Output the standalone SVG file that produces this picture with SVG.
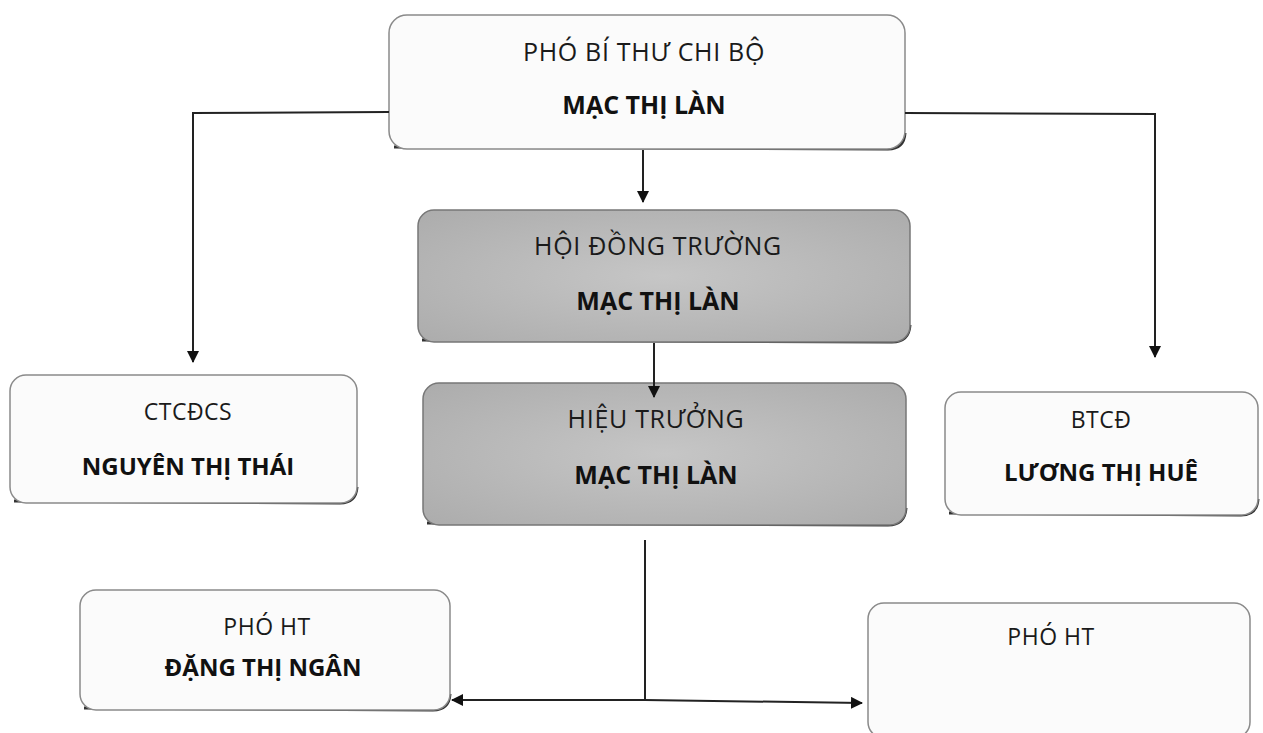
<svg xmlns="http://www.w3.org/2000/svg" width="1263" height="733" viewBox="0 0 1263 733">
<style>
.box{fill:#fbfbfb;stroke:#8a8a8a;stroke-width:1.5}
.gbox{fill:url(#gg);stroke:#777;stroke-width:1.5}
.sh{fill:none;stroke:#333;stroke-width:3}
.t{font-family:"Open Sans","Liberation Sans",sans-serif;font-size:25px;letter-spacing:0.7px;fill:#1a1a1a;text-anchor:middle}
.b{font-family:"Open Sans","Liberation Sans",sans-serif;font-size:25px;font-weight:bold;fill:#111;text-anchor:middle}
.ts{font-family:"Open Sans","Liberation Sans",sans-serif;font-size:23px;letter-spacing:0.5px;fill:#1a1a1a;text-anchor:middle}
.bs{font-family:"Open Sans","Liberation Sans",sans-serif;font-size:24px;font-weight:bold;fill:#111;text-anchor:middle}
.ln{fill:none;stroke:#222;stroke-width:2}
</style>
<defs>
<radialGradient id="gg" cx="0.5" cy="0.5" r="0.7">
<stop offset="0" stop-color="#c6c6c6"/>
<stop offset="1" stop-color="#acacac"/>
</radialGradient>
<marker id="ah" markerWidth="12" markerHeight="12" refX="11" refY="6" orient="auto" markerUnits="userSpaceOnUse">
<path d="M0,0 L12,6 L0,12 z" fill="#111"/>
</marker>
</defs>
<rect width="1263" height="733" fill="#ffffff"/>
<g id="n1">
<path class="sh" d="M394,147 L888,149 Q904,149 905,133"/>
<rect class="box" x="389" y="15" width="516" height="134" rx="18"/>
<text class="t" x="644" y="61">PHÓ BÍ THƯ CHI BỘ</text>
<text class="b" x="644" y="114">MẠC THỊ LÀN</text>
</g>
<g id="n2">
<path class="sh" d="M422,340 L892,342 Q909,342 910,325"/>
<rect class="gbox" x="418" y="210" width="492" height="132" rx="16"/>
<text class="t" x="658" y="255">HỘI ĐỒNG TRƯỜNG</text>
<text class="b" x="658" y="310">MẠC THỊ LÀN</text>
</g>
<g id="n3">
<path class="sh" d="M427,523 L888,525 Q905,525 906,508"/>
<rect class="gbox" x="423" y="383" width="483" height="142" rx="16"/>
<text class="t" x="656" y="428">HIỆU TRƯỞNG</text>
<text class="b" x="656" y="484">MẠC THỊ LÀN</text>
</g>
<g id="n4">
<path class="sh" d="M14,501 L340,503 Q356,503 357,487"/>
<rect class="box" x="10" y="375" width="347" height="128" rx="16"/>
<text class="ts" x="188" y="420">CTCĐCS</text>
<text class="bs" x="188" y="475">NGUYÊN THỊ THÁI</text>
</g>
<g id="n5">
<path class="sh" d="M949,513 L1241,515 Q1257,515 1258,499"/>
<rect class="box" x="945" y="392" width="313" height="123" rx="16"/>
<text class="ts" x="1101" y="428">BTCĐ</text>
<text class="bs" x="1101" y="481">LƯƠNG THỊ HUÊ</text>
</g>
<g id="n6">
<path class="sh" d="M84,708 L433,710 Q449,710 450,694"/>
<rect class="box" x="80" y="590" width="370" height="120" rx="16"/>
<text class="ts" x="267" y="635">PHÓ HT</text>
<text class="bs" x="263" y="676">ĐẶNG THỊ NGÂN</text>
</g>
<g id="n7">
<rect class="box" x="868" y="603" width="382" height="135" rx="16"/>
<text class="ts" x="1051" y="645">PHÓ HT</text>
</g>
<g id="connectors">
<polyline class="ln" points="389,112 193,113 193,362" marker-end="url(#ah)"/>
<polyline class="ln" points="905,113 1155,114 1155,357" marker-end="url(#ah)"/>
<line class="ln" x1="643" y1="150" x2="643" y2="202" marker-end="url(#ah)"/>
<line class="ln" x1="654" y1="343" x2="654" y2="397" marker-end="url(#ah)"/>
<line class="ln" x1="645" y1="540" x2="645" y2="700"/>
<line class="ln" x1="645" y1="700" x2="452" y2="700" marker-end="url(#ah)"/>
<line class="ln" x1="645" y1="700" x2="862" y2="703" marker-end="url(#ah)"/>
</g>
</svg>
